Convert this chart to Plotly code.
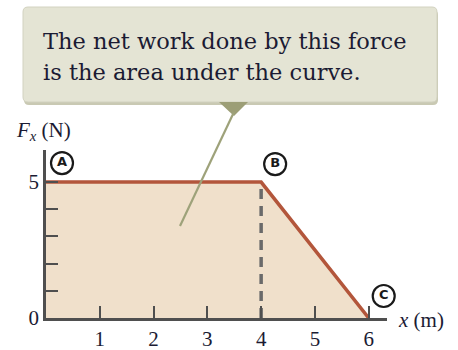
import plotly.graph_objects as go

# Force vs. position data (piecewise linear)
x_pts = [0, 4, 6]
fx_pts = [5, 5, 0]
point_names = ["A", "B", "C"]

x_ticks = [1, 2, 3, 4, 5, 6]
x_tick_text = ["1", "2", "3", "4", "5", "6"]
y_ticks = [0, 1, 2, 3, 4, 5]
y_tick_text = ["0", "", "", "", "", "5"]

callout_lines = ["The net work done by this force", "is the area under the curve."]

W, H = 458, 350
ML, MR, MT, MB = 46, 71, 150, 32
X_MAX, Y_MAX = 6.34, 6.18
PW, PH = W - ML - MR, H - MT - MB
UX, UY = PW / X_MAX, PH / Y_MAX  # pixels per data unit

SERIF = "Liberation Serif, Times New Roman, serif"
INK = "#1b1b33"
AXIS = "#4f4f4f"


def px(xp):
    return (xp - ML) / PW


def py(yp):
    return (H - MB - yp) / PH


fig = go.Figure()

# Area under the curve + the force curve
fig.add_trace(go.Scatter(
    x=x_pts, y=fx_pts, mode="lines", fill="tozeroy",
    fillcolor="#F0E0CB", line=dict(color="#B3563B", width=3.5),
    hoverinfo="skip", showlegend=False, cliponaxis=False,
))

# Dashed drop line from point B
fig.add_trace(go.Scatter(
    x=[x_pts[1], x_pts[1]], y=[0, fx_pts[1]], mode="lines",
    line=dict(color="#6a6a6a", width=3.5, dash="10px,7px"),
    hoverinfo="skip", showlegend=False,
))

# Circled point labels, offset in pixels from each point
offsets = [(16, 19), (14, 18), (15, 22)]
lab_x = [x + dx / UX for x, (dx, dy) in zip(x_pts, offsets)]
lab_y = [y + dy / UY for y, (dx, dy) in zip(fx_pts, offsets)]
fig.add_trace(go.Scatter(
    x=lab_x, y=lab_y, mode="markers+text", text=[f"<b>{n}</b>" for n in point_names],
    textposition="middle center",
    textfont=dict(family="DejaVu Sans, sans-serif", size=13, color="#1a1a1a"),
    marker=dict(symbol="circle", size=22, color="white",
                line=dict(color="#1a1a1a", width=2.2)),
    hoverinfo="skip", showlegend=False, cliponaxis=False,
))

shapes = []
# Callout box: shadow, body, pointer and leader line
bx0, bx1, by0, by1, r = 23, 437, 7, 102, 5


def rounded(x0, y0, x1, y1, r):
    return (f"M {px(x0 + r)},{py(y0)} L {px(x1 - r)},{py(y0)} "
            f"Q {px(x1)},{py(y0)} {px(x1)},{py(y0 + r)} "
            f"L {px(x1)},{py(y1 - r)} Q {px(x1)},{py(y1)} {px(x1 - r)},{py(y1)} "
            f"L {px(x0 + r)},{py(y1)} Q {px(x0)},{py(y1)} {px(x0)},{py(y1 - r)} "
            f"L {px(x0)},{py(y0 + r)} Q {px(x0)},{py(y0)} {px(x0 + r)},{py(y0)} Z")


shapes.append(dict(type="path", xref="paper", yref="paper",
                   path=rounded(bx0 + 1, by0 + 3, bx1 + 1, by1 + 3, r),
                   fillcolor="#C9C9B3", line=dict(width=0), layer="above"))
shapes.append(dict(type="path", xref="paper", yref="paper",
                   path=rounded(bx0, by0, bx1, by1, r),
                   fillcolor="#E4E4D4", line=dict(color="#D2D2C0", width=1),
                   layer="above"))
shapes.append(dict(type="path", xref="paper", yref="paper",
                   path=f"M {px(219)},{py(102)} L {px(248)},{py(102)} L {px(234)},{py(116)} Z",
                   fillcolor="#9C9E76", line=dict(width=0), layer="above"))
shapes.append(dict(type="line", xref="paper", yref="paper",
                   x0=px(234), y0=py(112), x1=px(180), y1=py(226),
                   line=dict(color="#9EA27A", width=2.2), layer="above"))

annotations = []
for txt, cy in zip(callout_lines, [41, 72]):
    annotations.append(dict(
        text=txt, xref="paper", yref="paper", x=px(41), y=py(cy),
        xanchor="left", yanchor="middle", showarrow=False,
        font=dict(family="DejaVu Serif, serif", size=22.5, color=INK),
    ))

# Axis titles
annotations.append(dict(
    text="<i>F<sub>x</sub></i> (N)", xref="paper", yref="paper",
    x=px(14), y=py(131), xanchor="left", yanchor="middle", showarrow=False,
    font=dict(family=SERIF, size=21, color=INK),
))
annotations.append(dict(
    text="<i>x</i> (m)", xref="paper", yref="paper",
    x=px(396), y=py(320), xanchor="left", yanchor="middle", showarrow=False,
    font=dict(family=SERIF, size=21, color=INK),
))

fig.update_layout(
    width=W, height=H,
    margin=dict(l=ML, r=MR, t=MT, b=MB),
    paper_bgcolor="white", plot_bgcolor="white",
    shapes=shapes, annotations=annotations,
    xaxis=dict(range=[0, X_MAX], showgrid=False, zeroline=False, automargin=False,
               showline=True, linecolor=AXIS, linewidth=2.5,
               tickmode="array", tickvals=x_ticks, ticktext=x_tick_text,
               ticks="inside", ticklen=12, tickwidth=2, tickcolor=AXIS,
               ticklabelstandoff=0,
               tickfont=dict(family=SERIF, size=21, color=INK)),
    yaxis=dict(range=[0, Y_MAX], showgrid=False, zeroline=False, automargin=False,
               showline=True, linecolor=AXIS, linewidth=2.5,
               tickmode="array", tickvals=y_ticks, ticktext=y_tick_text,
               ticks="inside", ticklen=12, tickwidth=2, tickcolor=AXIS,
               tickfont=dict(family=SERIF, size=21, color=INK)),
)

fig.write_html("out.html")
